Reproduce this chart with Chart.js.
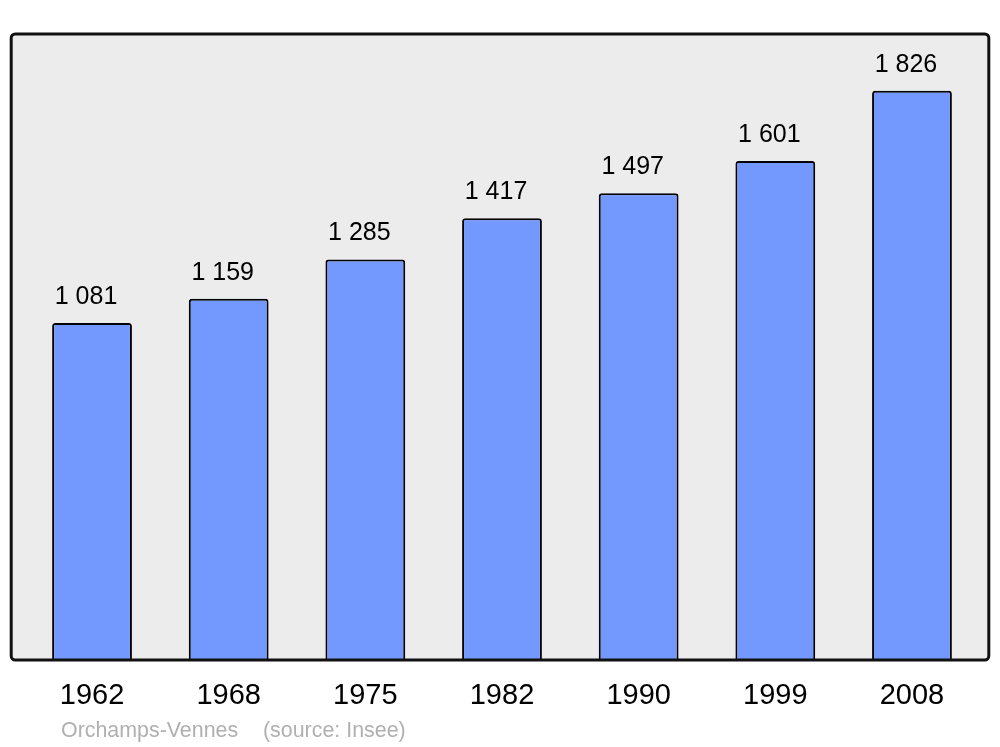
<!DOCTYPE html>
<html>
<head>
<meta charset="utf-8">
<script src="https://cdn.jsdelivr.net/npm/chart.js@4/dist/chart.umd.min.js"></script>
<style>
html,body{margin:0;padding:0;background:#fff;}
#wrap{width:1000px;height:747px;}
</style>
</head>
<body>
<div id="wrap"><canvas id="c" width="1000" height="747"></canvas></div>
<script>
const years = ["1962","1968","1975","1982","1990","1999","2008"];
const population = [1081, 1159, 1285, 1417, 1497, 1601, 1826];
const valueLabels = ["1 081","1 159","1 285","1 417","1 497","1 601","1 826"];
const commune = "Orchamps-Vennes";
const source = "(source: Insee)";

const FONT = "'Liberation Sans', Arial, sans-serif";

const framePlugin = {
  id: 'frame',
  beforeDatasetsDraw(chart) {
    const ca = chart.chartArea, ctx = chart.ctx;
    const x0 = ca.left - 12.5, x1 = ca.right + 8.5, y0 = ca.top, y1 = ca.bottom;
    ctx.save();
    ctx.beginPath();
    ctx.roundRect(x0, y0, x1 - x0, y1 - y0, 4);
    ctx.fillStyle = '#ececec';
    ctx.fill();
    ctx.restore();
  },
  afterDatasetsDraw(chart) {
    const ca = chart.chartArea, ctx = chart.ctx;
    const x0 = ca.left - 12.5, x1 = ca.right + 8.5, y0 = ca.top, y1 = ca.bottom;
    ctx.save();
    ctx.beginPath();
    ctx.roundRect(x0, y0, x1 - x0, y1 - y0, 4);
    ctx.lineWidth = 3;
    ctx.strokeStyle = '#111';
    ctx.stroke();
    // value labels
    const meta = chart.getDatasetMeta(0);
    ctx.fillStyle = '#000';
    ctx.font = '25px ' + FONT;
    ctx.textAlign = 'center';
    ctx.textBaseline = 'alphabetic';
    meta.data.forEach((bar, i) => {
      ctx.fillText(valueLabels[i], bar.x - 6, bar.y - 19);
    });
    // footer
    ctx.fillStyle = '#b0b0b0';
    ctx.font = '21.4px ' + FONT;
    ctx.textAlign = 'left';
    ctx.fillText(commune, 61, 737);
    ctx.fillText(source, 263, 737);
    ctx.restore();
  }
};

new Chart(document.getElementById('c'), {
  type: 'bar',
  data: {
    labels: years,
    datasets: [{
      data: population,
      backgroundColor: '#7399ff',
      borderColor: '#000',
      borderWidth: 2,
      borderRadius: 3,
      borderSkipped: 'bottom',
      barPercentage: 0.584,
      categoryPercentage: 1.0
    }]
  },
  options: {
    responsive: false,
    animation: false,
    devicePixelRatio: 1,
    layout: { padding: { left: 23.7, right: 19.7, top: 34, bottom: 0 } },
    plugins: { legend: { display: false }, tooltip: { enabled: false }, title: { display: false } },
    scales: {
      x: {
        display: true,
        grid: { display: false, drawTicks: false },
        border: { display: false },
        ticks: { color: '#000', font: { size: 29, family: FONT }, padding: 19, maxRotation: 0 },
        afterFit(scale) { scale.height = 87; }
      },
      y: {
        display: false,
        min: 0,
        max: 2008
      }
    }
  },
  plugins: [framePlugin]
});
</script>
</body>
</html>
